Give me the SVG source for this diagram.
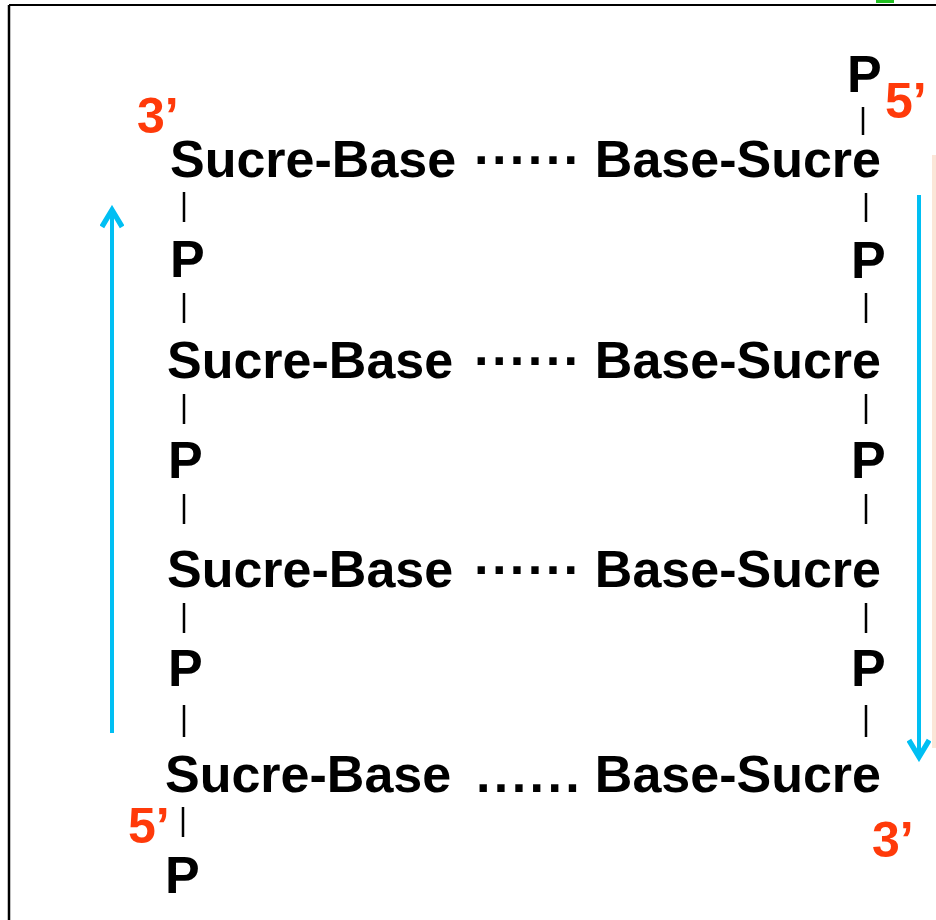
<svg xmlns="http://www.w3.org/2000/svg" width="936" height="920" viewBox="0 0 936 920">
  <style>
    .t { font-family: "Liberation Sans", Arial, sans-serif; font-weight: bold; font-size: 52px; fill: #000; }
    .end { text-anchor: end; }
    .red { font-family: "Liberation Sans", Arial, sans-serif; font-weight: bold; font-size: 50px; fill: #FF3A0A; }
    .mdots { letter-spacing: 0.6px; }
    .pdots { letter-spacing: 3.4px; }
    .bar { stroke: #000; stroke-width: 2.5; }
    .arrow { stroke: #00BFF3; stroke-width: 4; fill: none; }
  </style>
  <defs>
    <marker id="head" viewBox="0 0 10 10" refX="8" refY="5" markerWidth="6" markerHeight="6" orient="auto" markerUnits="strokeWidth">
      <path d="M1,0.8 L8,5 L1,9.2" fill="none" stroke="#00BFF3" stroke-width="2.2" stroke-linejoin="miter"/>
    </marker>
  </defs>
  <rect x="0" y="0" width="936" height="920" fill="#fff"/>
  <!-- frame -->
  <g id="frame">
    <line x1="9" y1="5" x2="936" y2="5" stroke="#000" stroke-width="2"/>
    <line x1="9" y1="5" x2="9" y2="920" stroke="#000" stroke-width="2.5"/>
    <rect x="876" y="0" width="18" height="3" fill="#22C022"/>
    <rect x="932" y="155" width="4" height="593" fill="#FBE6D8"/>
  </g>

  <!-- left strand -->
  <g id="left-3prime"><text class="red" x="137" y="133">3’</text></g>
  <g id="left-sucre-1"><text class="t" x="170" y="177">Sucre-Base</text></g>
  <g id="left-p-1"><text class="t" x="170" y="277">P</text></g>
  <g id="left-sucre-2"><text class="t" x="167" y="378">Sucre-Base</text></g>
  <g id="left-p-2"><text class="t" x="168" y="478">P</text></g>
  <g id="left-sucre-3"><text class="t" x="167" y="587">Sucre-Base</text></g>
  <g id="left-p-3"><text class="t" x="168" y="686">P</text></g>
  <g id="left-sucre-4"><text class="t" x="165" y="792">Sucre-Base</text></g>
  <g id="left-5prime"><text class="red" x="128" y="843">5’</text></g>
  <g id="left-p-4"><text class="t" x="165" y="893">P</text></g>

  <!-- right strand -->
  <g id="right-p-0"><text class="t" x="847" y="92">P</text></g>
  <g id="right-5prime"><text class="red" x="885" y="118">5’</text></g>
  <g id="right-sucre-1"><text class="t end" x="881" y="177">Base-Sucre</text></g>
  <g id="right-p-1"><text class="t" x="851" y="278">P</text></g>
  <g id="right-sucre-2"><text class="t end" x="881" y="378">Base-Sucre</text></g>
  <g id="right-p-2"><text class="t" x="851" y="478">P</text></g>
  <g id="right-sucre-3"><text class="t end" x="881" y="587">Base-Sucre</text></g>
  <g id="right-p-3"><text class="t" x="851" y="686">P</text></g>
  <g id="right-sucre-4"><text class="t end" x="881" y="792">Base-Sucre</text></g>
  <g id="right-3prime"><text class="red" x="872" y="857">3’</text></g>

  <!-- connectors -->
  <g id="connectors">
    <text class="t mdots" x="474" y="177">······</text>
    <text class="t mdots" x="474" y="378">······</text>
    <text class="t mdots" x="474" y="587">······</text>
    <text class="t pdots" x="476" y="792">......</text>

    <line class="bar" x1="184" y1="192" x2="184" y2="222"/>
    <line class="bar" x1="184" y1="293" x2="184" y2="323"/>
    <line class="bar" x1="184" y1="394" x2="184" y2="424"/>
    <line class="bar" x1="184" y1="494" x2="184" y2="524"/>
    <line class="bar" x1="184" y1="603" x2="184" y2="633"/>
    <line class="bar" x1="184" y1="705" x2="184" y2="737"/>
    <line class="bar" x1="183" y1="807" x2="183" y2="837"/>

    <line class="bar" x1="863" y1="107" x2="863" y2="135"/>
    <line class="bar" x1="866" y1="193" x2="866" y2="222"/>
    <line class="bar" x1="866" y1="293" x2="866" y2="323"/>
    <line class="bar" x1="866" y1="394" x2="866" y2="424"/>
    <line class="bar" x1="866" y1="494" x2="866" y2="524"/>
    <line class="bar" x1="866" y1="603" x2="866" y2="633"/>
    <line class="bar" x1="866" y1="705" x2="866" y2="737"/>

    <line class="arrow" x1="112" y1="733" x2="112" y2="210" marker-end="url(#head)"/>
    <line class="arrow" x1="919" y1="195" x2="919" y2="757" marker-end="url(#head)"/>
  </g>
</svg>
